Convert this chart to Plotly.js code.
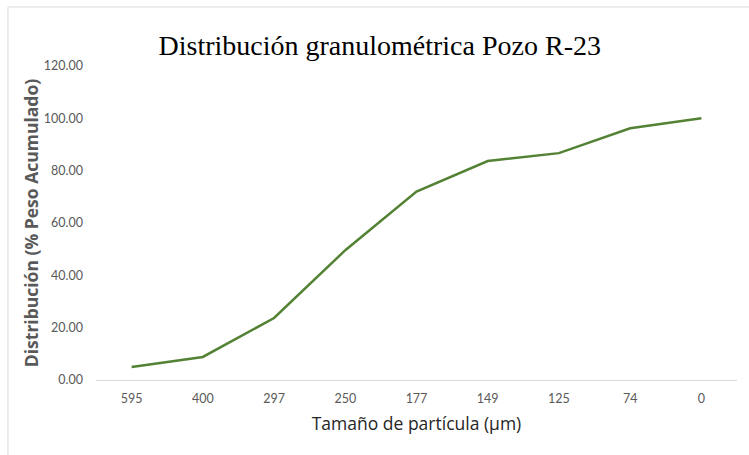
<!DOCTYPE html>
<html>
<head>
<meta charset="utf-8">
<script src="https://cdn.plot.ly/plotly-3.0.1.min.js"></script>
<style>html,body{margin:0;padding:0;background:#fff;}#chart{width:749px;height:455px;}</style>
</head>
<body>
<div id="chart"></div>
<script>
const sizes = ["595", "400", "297", "250", "177", "149", "125", "74", "0"];
const cumulative = [5.0, 8.8, 23.7, 49.6, 72.0, 83.7, 86.7, 96.2, 100.0];
const yTicks = [0, 20, 40, 60, 80, 100, 120];

const trace = {
  x: sizes,
  y: cumulative,
  type: 'scatter',
  mode: 'lines',
  line: {color: '#548235', width: 2.5},
  hoverinfo: 'x+y'
};

const layout = {
  width: 749, height: 455,
  margin: {l: 96, r: 12, t: 66, b: 75},
  paper_bgcolor: '#ffffff', plot_bgcolor: '#ffffff',
  showlegend: false,
  title: {
    text: 'Distribución granulométrica Pozo R-23',
    font: {family: 'Liberation Serif, Times New Roman, serif', size: 28, color: '#000000'},
    x: 0.507, xanchor: 'center', xref: 'container',
    y: 0.9, yanchor: 'middle', yref: 'container'
  },
  xaxis: {
    type: 'category',
    range: [-0.5, 8.5],
    showgrid: false, zeroline: false,
    showline: true, linecolor: '#d9d9d9', linewidth: 1,
    ticks: '',
    tickfont: {family: 'Liberation Sans Narrow, Lato, sans-serif', size: 12.5, color: '#595959'},
    ticklabelstandoff: 7,
    title: {text: 'Tamaño de partícula (µm)', font: {family: 'Open Sans, sans-serif', size: 17.5, color: '#262626'}, standoff: 12}
  },
  yaxis: {
    range: [0, 120],
    tickvals: yTicks,
    tickformat: '.2f',
    showgrid: false, zeroline: false, showline: false,
    ticks: '',
    tickfont: {family: 'Liberation Sans Narrow, Lato, sans-serif', size: 12.5, color: '#595959'},
    ticklabelstandoff: 12,
    title: {text: '<b>Distribución (% Peso Acumulado)</b>', font: {family: 'Open Sans, sans-serif', size: 17.5, color: '#595959'}, standoff: 0}
  },
  shapes: [
    {type: 'line', xref: 'paper', yref: 'paper', x0: -0.1373, x1: -0.1373, y0: 1.188, y1: -0.3, line: {color: '#d9d9d9', width: 1}},
    {type: 'line', xref: 'paper', yref: 'paper', x0: -0.1373, x1: 1.1, y0: 1.188, y1: 1.188, line: {color: '#d9d9d9', width: 1}}
  ]
};

Plotly.newPlot('chart', [trace], layout, {displayModeBar: false, staticPlot: true});
</script>
</body>
</html>
